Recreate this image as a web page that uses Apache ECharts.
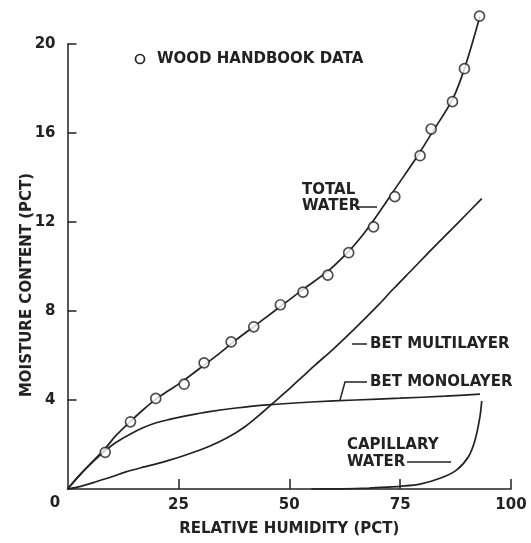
<!DOCTYPE html>
<html>
<head>
<meta charset="utf-8">
<script src="https://cdn.jsdelivr.net/npm/echarts@6/dist/echarts.min.js"></script>
<style>
html,body{margin:0;padding:0;background:#fff;}
#c{width:531px;height:543px;}
</style>
</head>
<body>
<div id="c"></div>
<script>
// Wood handbook data (relative humidity %, moisture content %)
const rhData = [8.5, 14.2, 19.9, 26.3, 30.8, 36.9, 42.0, 48.0, 53.1, 58.7, 63.4, 69.0, 73.8, 79.5, 82.0, 86.8, 89.5, 92.9];
const mcData = [1.65, 3.02, 4.07, 4.71, 5.67, 6.61, 7.29, 8.28, 8.85, 9.61, 10.62, 11.78, 13.14, 14.98, 16.18, 17.41, 18.89, 21.25];

// Total water curve
const totalRH = [0, 3, 6, 8.5, 11, 14, 17, 20, 23, 26, 30, 34, 38, 42, 46, 50, 54, 58.8, 63.5, 66.7, 69.1, 73.9, 78.7, 82, 86.9, 89.6, 93];
const totalMC = [0, 0.68, 1.3, 1.82, 2.42, 3.0, 3.55, 4.05, 4.45, 4.85, 5.45, 6.05, 6.7, 7.3, 7.9, 8.5, 9.1, 9.8, 10.7, 11.45, 12.1, 13.5, 14.9, 15.95, 17.55, 18.95, 21.25];

// BET multilayer curve
const multiRH = [0, 3, 6, 10, 13, 17, 20, 23, 27, 32, 36, 40, 44, 46, 48, 50, 53, 56, 60, 65, 70, 73.5, 78, 82.5, 88, 93.4];
const multiMC = [0, 0.12, 0.3, 0.55, 0.76, 0.98, 1.13, 1.3, 1.55, 1.92, 2.3, 2.8, 3.45, 3.8, 4.15, 4.5, 5.05, 5.6, 6.3, 7.25, 8.25, 9.0, 9.92, 10.85, 11.95, 13.05];

// BET monolayer curve
const monoRH = [0, 3, 6, 8.5, 11, 14, 17, 20, 23, 27, 32, 38, 45, 55, 65, 75, 85, 93];
const monoMC = [0, 0.68, 1.28, 1.72, 2.1, 2.45, 2.75, 2.98, 3.13, 3.3, 3.48, 3.64, 3.78, 3.91, 4.0, 4.08, 4.17, 4.26];

// Capillary water curve
const capRH = [55, 62, 68, 72, 75, 79.5, 84, 87.7, 90.4, 91.9, 93, 93.4];
const capMC = [0, 0.01, 0.04, 0.08, 0.12, 0.22, 0.48, 0.85, 1.45, 2.2, 3.25, 3.96];

// Axis ticks
const xTicks = [0, 25, 50, 75, 100];
const yTicks = [0, 4, 8, 12, 16, 20];

const INK = '#222';
const FONT = 'DejaVu Sans';
const zip = (a, b) => a.map((v, i) => [v, b[i]]);

function curve(name, xs, ys) {
  return {
    name: name, type: 'line', data: zip(xs, ys), smooth: 0.3,
    showSymbol: false, clip: false, silent: true,
    lineStyle: { color: INK, width: 1.7 }, z: 2
  };
}

const txt = (x, y, s, extra) => Object.assign({
  type: 'text', x: x, y: y, silent: true,
  style: { text: s, fill: INK, font: 'bold 15px "' + FONT + '"', textVerticalAlign: 'middle', textAlign: 'left' }
}, extra || {});
const seg = (pts) => ({
  type: 'polyline', silent: true, shape: { points: pts },
  style: { stroke: INK, lineWidth: 1.5, fill: null }
});

const chart = echarts.init(document.getElementById('c'), null, { renderer: 'canvas' });
chart.setOption({
  backgroundColor: '#fff',
  animation: false,
  grid: { left: 67.5, right: 20, top: 44, bottom: 54 },
  xAxis: {
    type: 'value', min: xTicks[0], max: xTicks[xTicks.length - 1], interval: xTicks[1] - xTicks[0],
    name: 'RELATIVE HUMIDITY (PCT)', nameLocation: 'middle', nameGap: 33,
    nameTextStyle: { color: INK, fontFamily: FONT, fontWeight: 'bold', fontSize: 15 },
    axisLine: { lineStyle: { color: INK, width: 1.5 } },
    axisTick: { inside: true, length: 10, lineStyle: { color: INK, width: 1.5 } },
    axisLabel: { showMinLabel: false, margin: 9, color: INK, fontFamily: FONT, fontWeight: 'bold', fontSize: 15 },
    splitLine: { show: false }
  },
  yAxis: {
    type: 'value', min: yTicks[0], max: yTicks[yTicks.length - 1], interval: yTicks[1] - yTicks[0],
    axisLine: { lineStyle: { color: INK, width: 1.5 } },
    axisTick: { inside: true, length: 9, lineStyle: { color: INK, width: 1.5 } },
    axisLabel: { showMinLabel: false, margin: 12, color: INK, fontFamily: FONT, fontWeight: 'bold', fontSize: 15 },
    splitLine: { show: false }
  },
  series: [
    curve('Total water', totalRH, totalMC),
    curve('BET multilayer', multiRH, multiMC),
    curve('BET monolayer', monoRH, monoMC),
    curve('Capillary water', capRH, capMC),
    {
      name: 'Wood handbook data', type: 'scatter', data: zip(rhData, mcData), clip: false,
      symbol: 'circle', symbolSize: 10, z: 5,
      itemStyle: { color: '#fff', borderColor: INK, borderWidth: 1.7 }
    }
  ],
  graphic: [
    txt(55, 503, String(xTicks[0]), { style: { text: String(xTicks[0]), fill: INK, font: 'bold 15px "' + FONT + '"', textAlign: 'center', textVerticalAlign: 'middle' } }),
    { type: 'text', x: 27, y: 285, rotation: Math.PI / 2, silent: true,
      style: { text: 'MOISTURE CONTENT (PCT)', fill: INK, font: 'bold 15px "' + FONT + '"', textAlign: 'center', textVerticalAlign: 'middle' } },
    { type: 'circle', silent: true, shape: { cx: 140, cy: 59, r: 4.5 }, style: { fill: '#fff', stroke: INK, lineWidth: 1.7 } },
    txt(157, 59, 'WOOD HANDBOOK DATA'),
    txt(302, 190, 'TOTAL'),
    txt(302, 206.5, 'WATER'),
    seg([[358, 207], [377, 207]]),
    txt(370, 344, 'BET MULTILAYER'),
    seg([[352, 344], [367, 344]]),
    txt(370, 382, 'BET MONOLAYER'),
    seg([[340, 400], [345, 382], [367, 382]]),
    txt(347, 445, 'CAPILLARY'),
    txt(347, 462, 'WATER'),
    seg([[407, 462], [451, 462]])
  ]
});
</script>
</body>
</html>
